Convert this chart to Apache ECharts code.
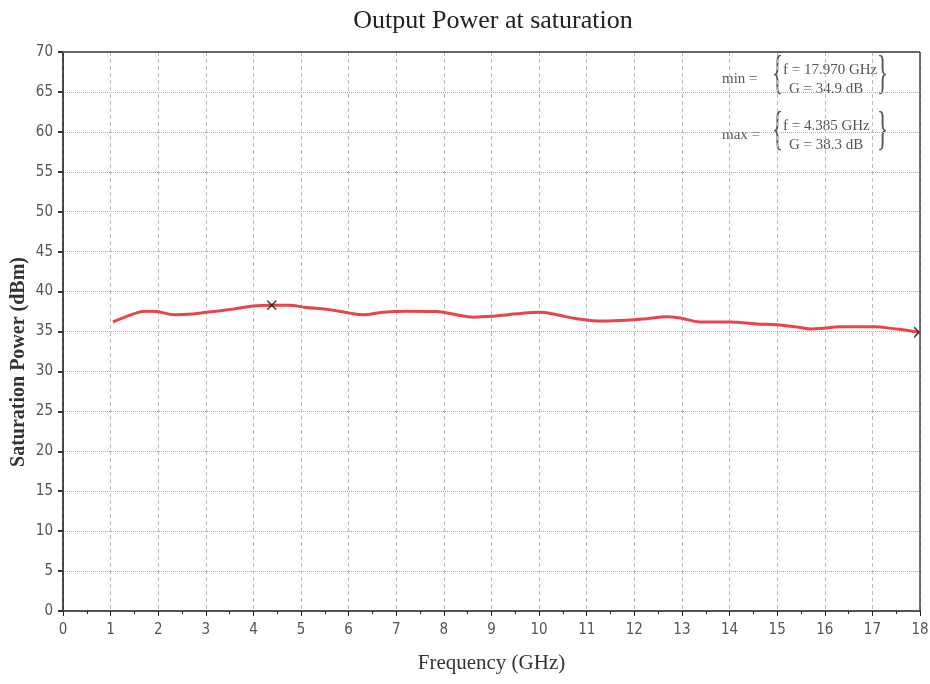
<!DOCTYPE html>
<html>
<head>
<meta charset="utf-8">
<script src="https://cdn.jsdelivr.net/npm/echarts@6/dist/echarts.min.js"></script>
<style>html,body{margin:0;padding:0;background:#fff}#c{width:930px;height:684px}</style>
</head>
<body>
<div id="c"></div>
<script>
const freqGHz = [1.05,1.3,1.58,1.75,1.96,2.35,2.73,3.01,3.3,3.57,3.99,4.385,4.76,5.11,5.53,6.02,6.30,6.72,7.21,7.84,8.26,8.61,9.03,9.35,9.66,10.01,10.37,10.79,11.34,11.84,12.26,12.68,12.96,13.38,14.01,14.57,14.99,15.48,15.72,15.97,16.32,17.02,17.51,17.97];
const satPower = [36.2,36.8,37.4,37.55,37.5,37.1,37.2,37.4,37.6,37.8,38.2,38.3,38.3,38.0,37.8,37.3,37.1,37.4,37.55,37.5,37.1,36.8,36.9,37.1,37.3,37.4,37.1,36.6,36.3,36.4,36.6,36.85,36.7,36.2,36.2,35.95,35.85,35.5,35.3,35.4,35.6,35.6,35.3,34.9];
const maxPoint = [4.385, 38.3];
const minPoint = [17.970, 34.9];
const xTicks = {min:0, max:18, interval:1};
const yTicks = {min:0, max:70, interval:5};
const titleText = 'Output Power at saturation';
const xName = 'Frequency (GHz)';
const yName = 'Saturation Power (dBm)';
const minLines = ['f = 17.970 GHz', 'G = 34.9 dB'];
const maxLines = ['f = 4.385 GHz', 'G = 38.3 dB'];

const chart = echarts.init(document.getElementById('c'));
const serif = '"Liberation Serif", "DejaVu Serif", serif';
const annFont = '15px "Liberation Serif", serif';
const braceFont = '46px "Liberation Serif", serif';
function annot(label, lines, top) {
  return [
    {type:'text', x:722, y: top+11, style:{text: label, font: annFont, fill:'#555'}},
    {type:'text', x:772, y: top-8, scaleX:0.5, style:{text:'{', font: braceFont, fill:'#555'}},
    {type:'text', x:783, y: top+2, style:{text: lines[0], font: annFont, fill:'#555'}},
    {type:'text', x:789, y: top+21, style:{text: lines[1], font: annFont, fill:'#555'}},
    {type:'text', x:877, y: top-8, scaleX:0.5, style:{text:'}', font: braceFont, fill:'#555'}}
  ];
}
chart.setOption({
  animation:false,
  backgroundColor:'#fff',
  title:{text:titleText, left:488, textAlign:'center', top:3,
    textStyle:{fontFamily:serif, fontWeight:'normal', fontSize:26, color:'#222'}},
  grid:{left:63, right:10, top:52, bottom:73, outerBoundsMode:'none', containLabel:false, show:false},
  xAxis:{type:'value', min:xTicks.min, max:xTicks.max, interval:xTicks.interval,
    name:xName, nameLocation:'middle', nameGap:42,
    nameTextStyle:{fontFamily:serif, fontSize:21, color:'#333'},
    axisLine:{show:true, onZero:false, lineStyle:{color:'#555', width:2}},
    axisTick:{show:true, length:5, lineStyle:{color:'#222'}},
    minorTick:{show:true, splitNumber:2, length:3, lineStyle:{color:'#222'}},
    axisLabel:{fontFamily:'"DejaVu Sans Condensed", "Liberation Sans", sans-serif', fontSize:15, color:'#555', margin:12},
    splitLine:{show:true, lineStyle:{color:'#bbb', type:[4,3], width:1}}
  },
  yAxis:{type:'value', min:yTicks.min, max:yTicks.max, interval:yTicks.interval,
    axisLine:{show:true, onZero:false, lineStyle:{color:'#111', width:1.5}},
    axisTick:{show:true, length:5, lineStyle:{color:'#333', width:2}},
    axisLabel:{fontFamily:'"DejaVu Sans Condensed", "Liberation Sans", sans-serif', fontSize:15, color:'#555', margin:10},
    splitLine:{show:true, lineStyle:{color:'#aaa', type:[1,1], width:1}}
  },
  graphic:[
    {type:'line', shape:{x1:63, y1:52, x2:920, y2:52}, style:{stroke:'#666', lineWidth:2}, z:100},
    {type:'line', shape:{x1:920, y1:52, x2:920, y2:611}, style:{stroke:'#444', lineWidth:1.5}, z:100},
    {type:'text', x:19, y:362, rotation:Math.PI/2,
      style:{text:yName, font:'bold 20px "Liberation Serif", serif', fill:'#333', align:'center', verticalAlign:'middle'}},
    ...annot('min =', minLines, 61),
    ...annot('max =', maxLines, 117)
  ],
  series:[
    {type:'line', data: freqGHz.map((f,i)=>[f, satPower[i]]), smooth:0.4, symbol:'none',
      lineStyle:{color:'#e8454a', width:3}, z:3},
    {type:'scatter', data:[maxPoint], symbol:'path://M0,0L10,10M10,0L0,10', symbolSize:9,
      itemStyle:{color:'none', borderColor:'#222', borderWidth:1.5}, z:5},
    {type:'scatter', data:[minPoint], symbol:'path://M0,0L5,5L0,10', symbolSize:[5,10], symbolOffset:[-2,0],
      itemStyle:{color:'none', borderColor:'#222', borderWidth:1.5}, z:5}
  ]
});
</script>
</body>
</html>
